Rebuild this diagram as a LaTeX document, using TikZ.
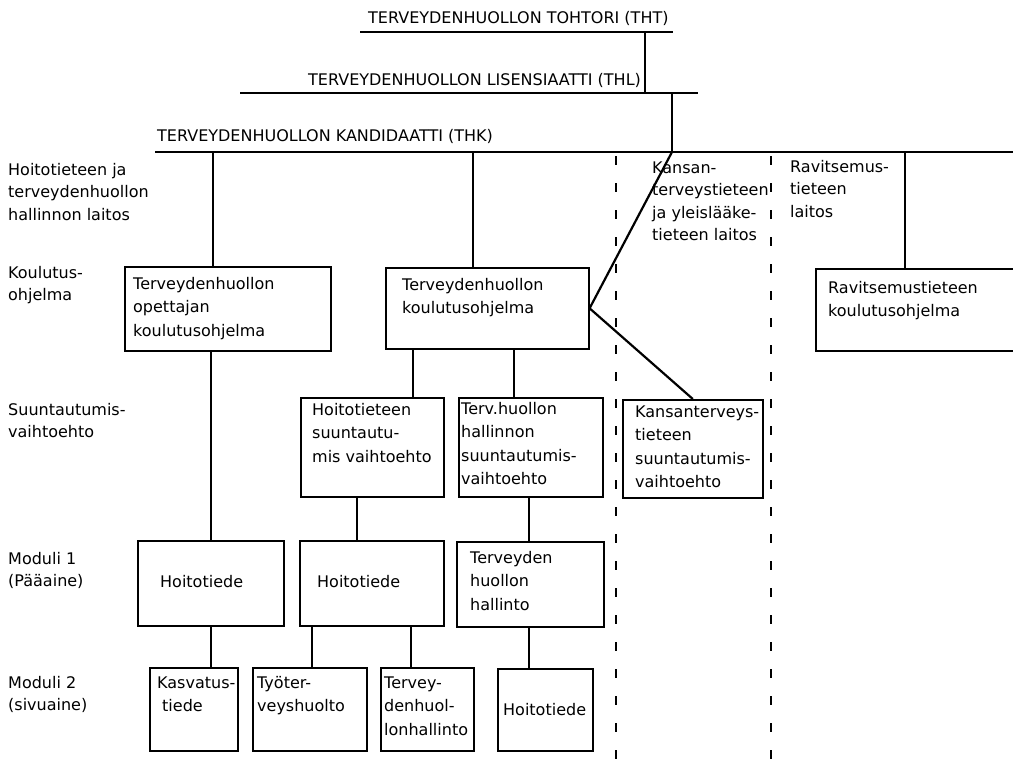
\documentclass[tikz,border=0pt]{standalone}
\usepackage{fontspec}
\setmainfont{DejaVu Sans}
\usetikzlibrary{calc}
\newcommand\firstst{\rule{0pt}{13pt}}
\begin{document}
\begin{tikzpicture}[x=1pt,y=-1pt,
  box/.style={draw, line width=1.6pt, rectangle, inner sep=0pt, anchor=north west},
  txt/.style={anchor=north west, inner sep=0pt, align=left, font=\fontsize{16}{23.5}\selectfont},
  lab/.style={anchor=north west, inner sep=0pt, align=left, font=\fontsize{16}{22.5}\selectfont},
  ttl/.style={anchor=base west, inner sep=0pt, font=\fontsize{16}{20}\selectfont},
  conn/.style={line width=1.6pt},
  hl/.style={line width=1.8pt},
  diag/.style={line width=2.2pt},
  dashline/.style={line width=1.8pt, dash pattern=on 9pt off 18pt}]
\useasboundingbox (0,0) rectangle (1013,760);
\clip (0,0) rectangle (1013,760);

% titles
\node[ttl] (tht) at (368,24) {TERVEYDENHUOLLON TOHTORI (THT)};
\node[ttl] (thl) at (308,85) {TERVEYDENHUOLLON LISENSIAATTI (THL)};
\node[ttl] (thk) at (157,141) {TERVEYDENHUOLLON KANDIDAATTI (THK)};

\coordinate (thtL) at (360,32);  \coordinate (thtR) at (673,32);
\coordinate (thlL) at (240,93);  \coordinate (thlR) at (698,93);
\coordinate (thkL) at (155,152); \coordinate (thkR) at (1013,152);
\coordinate (bot) at (0,760);
\draw[hl] (thtL) -- (thtR);
\draw[hl] (thlL) -- (thlR);
\draw[hl] (thkL) -- (thkR);
\coordinate (v1) at (645,0);
\coordinate (v2) at (672,0);
\draw[conn] (thtL -| v1) -- (thlL -| v1);
\draw[conn] (thlL -| v2) -- (thkL -| v2);

% row labels
\node[lab] (l1) at (8,162) {\firstst Hoitotieteen ja\\terveydenhuollon\\hallinnon laitos};
\node[lab] (l2) at (8,265) {\firstst Koulutus-\\ohjelma};
\node[lab] (l3) at (8,402) {\firstst Suuntautumis-\\vaihtoehto};
\node[lab] (l4) at (8,551) {\firstst Moduli 1\\(Pääaine)};
\node[lab] (l5) at (8,675) {\firstst Moduli 2\\(sivuaine)};
\node[lab] (kl) at (652,160) {\firstst Kansan-\\terveystieteen\\ja yleislääke-\\tieteen laitos};
\node[lab] (rl) at (790,159) {\firstst Ravitsemus-\\tieteen\\laitos};

% boxes
\node[box, minimum width=206pt, minimum height=84pt] (A) at (124,266) {};
\node[box, minimum width=203pt, minimum height=81pt] (B) at (385,267) {};
\node[box, minimum width=230pt, minimum height=82pt] (R) at (815,268) {};
\node[box, minimum width=143pt, minimum height=99pt] (C) at (300,397) {};
\node[box, minimum width=144pt, minimum height=99pt] (D) at (458,397) {};
\node[box, minimum width=140pt, minimum height=98pt] (E) at (622,399) {};
\node[box, minimum width=146pt, minimum height=85pt] (F) at (137,540) {};
\node[box, minimum width=144pt, minimum height=85pt] (G) at (299,540) {};
\node[box, minimum width=147pt, minimum height=85pt] (H) at (456,541) {};
\node[box, minimum width=88pt, minimum height=83pt] (I) at (149,667) {};
\node[box, minimum width=114pt, minimum height=83pt] (J) at (252,667) {};
\node[box, minimum width=93pt, minimum height=83pt] (K) at (380,667) {};
\node[box, minimum width=95pt, minimum height=82pt] (L) at (497,668) {};

% box texts
\node[txt] (At) at (133,276) {\firstst Terveydenhuollon\\opettajan\\koulutusohjelma};
\node[txt] (Bt) at (402,277) {\firstst Terveydenhuollon\\koulutusohjelma};
\node[txt] (Rt) at (828,280) {\firstst Ravitsemustieteen\\koulutusohjelma};
\node[txt] (Ct) at (312,402) {\firstst Hoitotieteen\\suuntautu-\\mis vaihtoehto};
\node[txt] (Dt) at (461,401) {\firstst Terv.huollon\\hallinnon\\suuntautumis-\\vaihtoehto};
\node[txt] (Et) at (635,404) {\firstst Kansanterveys-\\tieteen\\suuntautumis-\\vaihtoehto};
\node[txt] (Ft) at (160,574) {\firstst Hoitotiede};
\node[txt] (Gt) at (317,574) {\firstst Hoitotiede};
\node[txt] (Ht) at (470,550) {\firstst Terveyden\\huollon\\hallinto};
\node[txt] (It) at (157,675) {\firstst Kasvatus-\\\hspace*{5pt}tiede};
\node[txt] (Jt) at (257,675) {\firstst Työter-\\veyshuolto};
\node[txt] (Kt) at (384,675) {\firstst Tervey-\\denhuol-\\lonhallinto};
\node[txt] (Lt) at (503,702) {\firstst Hoitotiede};

% connectors
\coordinate (xA) at (213,0);
\coordinate (xB) at (473,0);
\coordinate (xR) at (905,0);
\coordinate (xAF) at (211,0);
\coordinate (xBC) at (413,0);
\coordinate (xBD) at (514,0);
\coordinate (xCG) at (357,0);
\coordinate (xDH) at (529,0);
\coordinate (xGJ) at (312,0);
\coordinate (xGK) at (411,0);
\draw[conn] (thkL -| xA) -- (A.north -| xA);
\draw[conn] (thkL -| xB) -- (B.north -| xB);
\draw[conn] (thkL -| xR) -- (R.north -| xR);
\draw[conn] (A.south -| xAF) -- (F.north -| xAF);
\draw[conn] (F.south -| xAF) -- (I.north -| xAF);
\draw[conn] (B.south -| xBC) -- (C.north -| xBC);
\draw[conn] (B.south -| xBD) -- (D.north -| xBD);
\draw[conn] (C.south -| xCG) -- (G.north -| xCG);
\draw[conn] (D.south -| xDH) -- (H.north -| xDH);
\draw[conn] (H.south -| xDH) -- (L.north -| xDH);
\draw[conn] (G.south -| xGJ) -- (J.north -| xGJ);
\draw[conn] (G.south -| xGK) -- (K.north -| xGK);
\draw[diag] (thkL -| v2) -- (B.east) -- (E.north);

% dashed department borders
\coordinate (d1) at (616,0);
\coordinate (d2) at (771,0);
\draw[dashline] ($(thkL -| d1)+(0,4)$) -- (bot -| d1);
\draw[dashline] ($(thkL -| d2)+(0,4)$) -- (bot -| d2);
\end{tikzpicture}
\end{document}
